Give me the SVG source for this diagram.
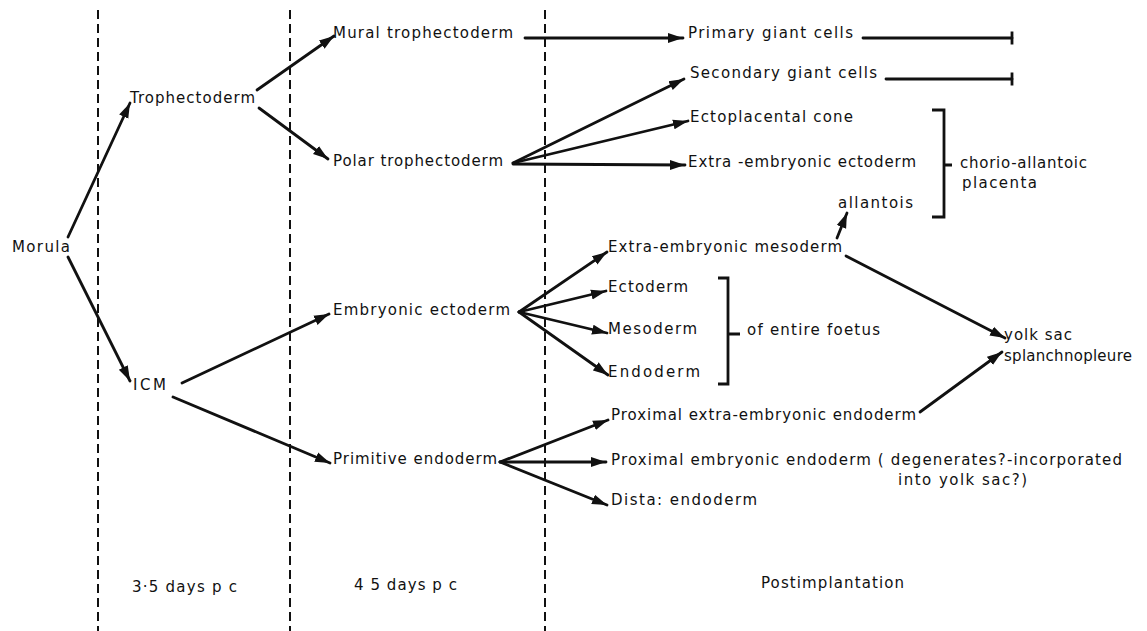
<svg xmlns="http://www.w3.org/2000/svg" width="1147" height="631" viewBox="0 0 1147 631">
<style>
text{font-family:"DejaVu Sans","Liberation Sans",Arial,sans-serif;font-size:15px;fill:#111}
.dash{stroke:#111;stroke-width:2;stroke-dasharray:9 5;fill:none}
.c{stroke:#111;stroke-width:2.8;fill:none;stroke-linecap:round}
.ar{marker-end:url(#ah)}
.tb{marker-end:url(#tbar)}
.br{stroke:#111;stroke-width:2.8;fill:none}
</style>
<defs>
<marker id="ah" markerUnits="userSpaceOnUse" markerWidth="16" markerHeight="12" refX="15" refY="6" orient="auto">
<path d="M0,1 L15,6 L0,11 z" fill="#111"/>
</marker>
<marker id="tbar" markerUnits="userSpaceOnUse" markerWidth="4" markerHeight="16" refX="2" refY="8" orient="auto">
<path d="M2,1.5 V14.5" stroke="#111" stroke-width="2.8"/>
</marker>
</defs>
<rect width="1147" height="631" fill="#fff"/>
<g id="phases">
<line class="dash" x1="98" y1="10" x2="98" y2="631"/>
<line class="dash" x1="290" y1="10" x2="290" y2="631"/>
<line class="dash" x1="545" y1="10" x2="545" y2="631"/>
<text x="132" y="592" textLength="105" lengthAdjust="spacing">3·5 days p c</text>
<text x="354" y="590" textLength="103" lengthAdjust="spacing">4 5 days p c</text>
<text x="761" y="588" textLength="143" lengthAdjust="spacing">Postimplantation</text>
</g>
<g id="connectors">
<line class="c ar" x1="68" y1="237" x2="130" y2="103"/>
<line class="c ar" x1="68" y1="257" x2="130" y2="381"/>
<line class="c ar" x1="257" y1="90" x2="334" y2="36"/>
<line class="c ar" x1="259" y1="108" x2="328" y2="159"/>
<line class="c ar" x1="182" y1="383" x2="329" y2="314"/>
<line class="c ar" x1="173" y1="397" x2="330" y2="463"/>
<line class="c ar" x1="525" y1="38" x2="683" y2="38"/>
<line class="c tb" x1="863" y1="38" x2="1012" y2="38"/>
<line class="c tb" x1="886" y1="79" x2="1012" y2="79"/>
<line class="c ar" x1="513" y1="163" x2="684" y2="79"/>
<line class="c ar" x1="513" y1="163" x2="688" y2="121"/>
<line class="c ar" x1="513" y1="164" x2="685" y2="165"/>
<line class="c ar" x1="837" y1="238" x2="847" y2="213"/>
<line class="c ar" x1="846" y1="256" x2="1005" y2="338"/>
<line class="c ar" x1="920" y1="412" x2="1002" y2="352"/>
<line class="c ar" x1="519" y1="312" x2="607" y2="252"/>
<line class="c ar" x1="519" y1="312" x2="606" y2="291"/>
<line class="c ar" x1="519" y1="312" x2="607" y2="333"/>
<line class="c ar" x1="519" y1="312" x2="608" y2="375"/>
<line class="c ar" x1="500" y1="462" x2="608" y2="420"/>
<line class="c ar" x1="500" y1="462" x2="606" y2="462"/>
<line class="c ar" x1="500" y1="462" x2="607" y2="505"/>
</g>
<g id="brackets">
<path class="br" d="M932,110 H944 V217 H932 M944,165 H952"/>
<path class="br" d="M718,278 H728 V384 H718 M728,334 H740"/>
</g>
<g id="morula"><text x="12" y="252" textLength="58" lengthAdjust="spacing">Morula</text></g>
<g id="trophectoderm"><text x="130" y="103" textLength="125" lengthAdjust="spacing">Trophectoderm</text></g>
<g id="icm"><text x="133" y="390" textLength="33" lengthAdjust="spacing">ICM</text></g>
<g id="mural"><text x="333" y="38" textLength="180" lengthAdjust="spacing">Mural trophectoderm</text></g>
<g id="polar"><text x="333" y="166" textLength="170" lengthAdjust="spacing">Polar trophectoderm</text></g>
<g id="embryonic-ectoderm"><text x="333" y="315" textLength="177" lengthAdjust="spacing">Embryonic ectoderm</text></g>
<g id="primitive-endoderm"><text x="333" y="464" textLength="164" lengthAdjust="spacing">Primitive endoderm</text></g>
<g id="primary-giant"><text x="688" y="38" textLength="165" lengthAdjust="spacing">Primary giant cells</text></g>
<g id="secondary-giant"><text x="690" y="78" textLength="187" lengthAdjust="spacing">Secondary giant cells</text></g>
<g id="ectoplacental"><text x="690" y="122" textLength="163" lengthAdjust="spacing">Ectoplacental cone</text></g>
<g id="ex-ectoderm"><text x="688" y="167" textLength="228" lengthAdjust="spacing">Extra -embryonic ectoderm</text></g>
<g id="allantois"><text x="838" y="208" textLength="75" lengthAdjust="spacing">allantois</text></g>
<g id="placenta"><text x="960" y="168" textLength="127" lengthAdjust="spacing">chorio-allantoic</text><text x="962" y="188" textLength="75" lengthAdjust="spacing">placenta</text></g>
<g id="ex-mesoderm"><text x="608" y="252" textLength="234" lengthAdjust="spacing">Extra-embryonic mesoderm</text></g>
<g id="ectoderm"><text x="608" y="292" textLength="80" lengthAdjust="spacing">Ectoderm</text></g>
<g id="mesoderm"><text x="608" y="334" textLength="89" lengthAdjust="spacing">Mesoderm</text></g>
<g id="endoderm"><text x="608" y="377" textLength="92" lengthAdjust="spacing">Endoderm</text></g>
<g id="foetus"><text x="747" y="335" textLength="133" lengthAdjust="spacing">of entire foetus</text></g>
<g id="yolk-sac"><text x="1004" y="340" textLength="68" lengthAdjust="spacing">yolk sac</text><text x="1004" y="361" textLength="128" lengthAdjust="spacing">splanchnopleure</text></g>
<g id="prox-ex-endoderm"><text x="611" y="420" textLength="305" lengthAdjust="spacing">Proximal extra-embryonic endoderm</text></g>
<g id="prox-emb-endoderm"><text x="611" y="465" textLength="511" lengthAdjust="spacing">Proximal embryonic  endoderm ( degenerates?-incorporated</text><text x="898" y="485" textLength="129" lengthAdjust="spacing">into yolk sac?)</text></g>
<g id="distal-endoderm"><text x="611" y="505" textLength="146" lengthAdjust="spacing">Dista: endoderm</text></g>
</svg>
